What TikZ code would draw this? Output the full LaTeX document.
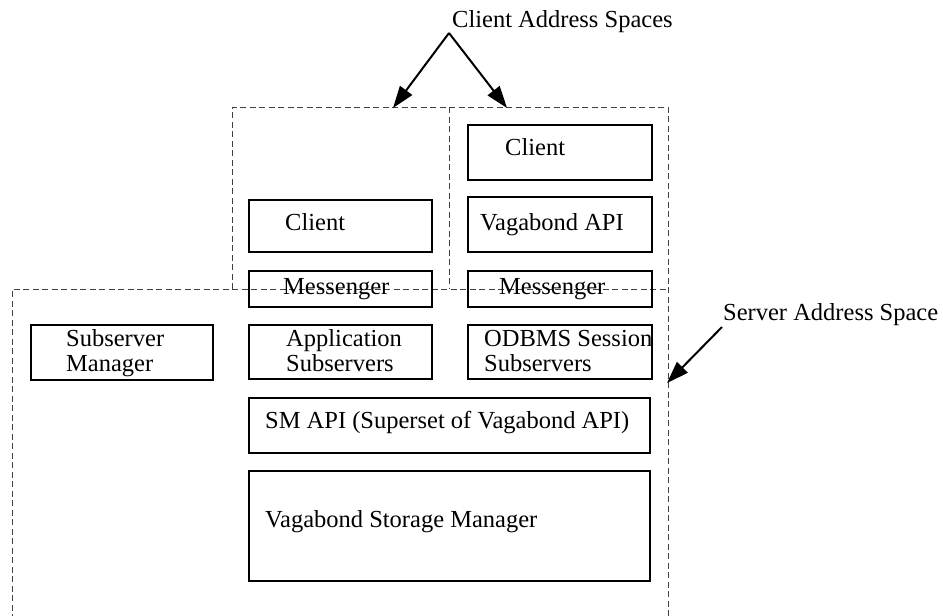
\documentclass[tikz,border=0pt]{standalone}
\usepackage{fontspec}
\setmainfont{Liberation Serif}
\usetikzlibrary{arrows.meta}
\begin{document}
\begin{tikzpicture}[x=1pt,y=-1pt,
  box/.style={draw,line width=2.2pt,rectangle,inner sep=0pt},
  lbl/.style={inner sep=0pt,anchor=base west,font=\fontsize{24.5}{24.5}\selectfont,align=left},
  space/.style={draw=black!75,line width=1pt,dash pattern=on 6pt off 3.5pt},
  pointer/.style={line width=2pt,-{Triangle[length=22pt,width=15pt]}}]
\useasboundingbox (0,0) rectangle (943,616);

% address-space frames
\coordinate (sTL) at (12,289);
\coordinate (sBL) at (12,620);
\coordinate (sBR) at (668,620);
\coordinate (cTL) at (232,107);
\coordinate (cTM) at (449,107);
\coordinate (cTR) at (668,107);
\coordinate (cBL) at (232,289);
\coordinate (cBM) at (449,289);
\coordinate (sTR) at (668,289);
\draw[space] (sBL) -- (sTL) -- (sTR);
\draw[space] (cBL) -- (cTL) -- (cTR) -- (sBR);
\draw[space] (cTM) -- (cBM);

% component boxes
\node[box,minimum width=184pt,minimum height=55pt] (cliR) at (560,152.5) {};
\node[box,minimum width=184pt,minimum height=55pt] (api) at (560,224.5) {};
\node[box,minimum width=183pt,minimum height=52pt] (cliL) at (340.5,226) {};
\node[box,minimum width=183pt,minimum height=36pt] (msgL) at (340.5,289) {};
\node[box,minimum width=184pt,minimum height=36pt] (msgR) at (560,289) {};
\node[box,minimum width=183pt,minimum height=54pt] (app) at (340.5,352) {};
\node[box,minimum width=184pt,minimum height=54pt] (odb) at (560,352) {};
\node[box,minimum width=182pt,minimum height=55pt] (ssm) at (122,352.5) {};
\node[box,minimum width=401pt,minimum height=55pt] (smapi) at (449.5,425.5) {};
\node[box,minimum width=401pt,minimum height=110pt] (vsm) at (449.5,526) {};

% labels (two-line labels are anchored on their second baseline)
\node[lbl] (tCliR) at (505,155) {Client};
\node[lbl] (tApi) at (480,230) {Vagabond API};
\node[lbl] (tCliL) at (285,230) {Client};
\node[lbl] (tMsgL) at (283,294) {Messenger};
\node[lbl] (tMsgR) at (499,294) {Messenger};
\node[lbl] (tApp) at (286,371) {Application\\Subservers};
\node[lbl] (tOdb) at (484,371) {ODBMS Session\\Subservers};
\node[lbl] (tSsm) at (66,371) {Subserver\\Manager};
\node[lbl] (tSmapi) at (265,428) {SM API (Superset of Vagabond API)};
\node[lbl] (tVsm) at (265,527) {Vagabond Storage Manager};

% captions and pointers
\node[lbl] (cas) at (452,27) {Client Address Spaces};
\node[lbl] (sas) at (723,320) {Server Address Space};
\coordinate (apex) at (449,33);
\coordinate (sfrom) at (722,327);
\coordinate (sto) at (667,383);
\draw[pointer] (apex) -- (393,108);
\draw[pointer] (apex) -- (507,108);
\draw[pointer] (sfrom) -- (sto);
\end{tikzpicture}
\end{document}
